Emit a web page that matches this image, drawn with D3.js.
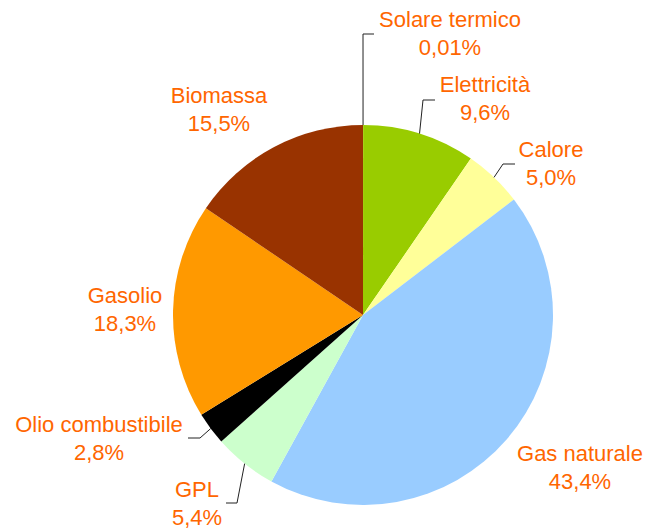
<!DOCTYPE html>
<html>
<head>
<meta charset="utf-8">
<title>Consumi energetici per fonte</title>
<script src="https://d3js.org/d3.v7.min.js"></script>
<style>
	body { margin: 0; background: #fff; }
	text { font-family: "Liberation Sans", Arial, sans-serif; font-size: 22px; fill: #FF6600; }
</style>
</head>
<body>
<div id="chart"></div>
<script>

	// data, clockwise from 12 o'clock
	var categories = ["Solare termico", "Elettricità", "Calore", "Gas naturale", "GPL", "Olio combustibile", "Gasolio", "Biomassa"];
	var values = [0.01, 9.6, 5.0, 43.4, 5.4, 2.8, 18.3, 15.5];
	var valueLabels = ["0,01%", "9,6%", "5,0%", "43,4%", "5,4%", "2,8%", "18,3%", "15,5%"];
	var colors = ["#FFCC00", "#99CC00", "#FFFF99", "#99CCFF", "#CCFFCC", "#000000", "#FF9900", "#993300"];

	// label layout: text centre + first baseline, optional leader elbow/end
	var labelLayout = [
		{x: 450, y: 27, elbow: [363, 34], end: [374, 34]},
		{x: 485, y: 92, elbow: [423, 100], end: [435, 100]},
		{x: 551, y: 157, elbow: [503, 164], end: [515, 164]},
		{x: 580, y: 461},
		{x: 197, y: 497, elbow: [237, 503], end: [226, 503]},
		{x: 99, y: 432, elbow: [200, 438], end: [188, 438]},
		{x: 125, y: 303},
		{x: 219, y: 103}
	];

	var width = 647, height = 532;
	var cx = 363, cy = 315, r = 190;

	var svg = d3.select("#chart").append("svg")
		.attr("width", width)
		.attr("height", height);

	var pie = d3.pie().sort(null).value(function(d){ return d; });
	var arcs = pie(values);
	var arc = d3.arc().innerRadius(0).outerRadius(r);

	var g = svg.append("g").attr("transform", "translate(" + cx + "," + cy + ")");

	g.selectAll("path")
		.data(arcs)
		.enter()
		.append("path")
		.attr("d", arc)
		.style("fill", function(d, i){ return colors[i]; });

	// leader lines
	var line = d3.line();
	svg.selectAll("path.leader")
		.data(arcs.filter(function(d, i){ return labelLayout[i].elbow; }))
		.enter()
		.append("path")
		.attr("class", "leader")
		.attr("d", function(d){
			var L = labelLayout[d.index];
			var a = (d.startAngle + d.endAngle) / 2;
			var start = [cx + r * Math.sin(a), cy - r * Math.cos(a)];
			return line([start, L.elbow, L.end]);
		})
		.style("fill", "none")
		.style("stroke", "#222")
		.style("stroke-width", 1);

	// labels
	var labels = svg.selectAll("text.lbl")
		.data(categories)
		.enter()
		.append("text")
		.attr("class", "lbl")
		.attr("text-anchor", "middle")
		.attr("x", function(d, i){ return labelLayout[i].x; })
		.attr("y", function(d, i){ return labelLayout[i].y; });

	labels.append("tspan").text(function(d){ return d; });
	labels.append("tspan")
		.attr("x", function(d, i){ return labelLayout[i].x; })
		.attr("dy", 28)
		.text(function(d, i){ return valueLabels[i]; });

</script>
</body>
</html>
